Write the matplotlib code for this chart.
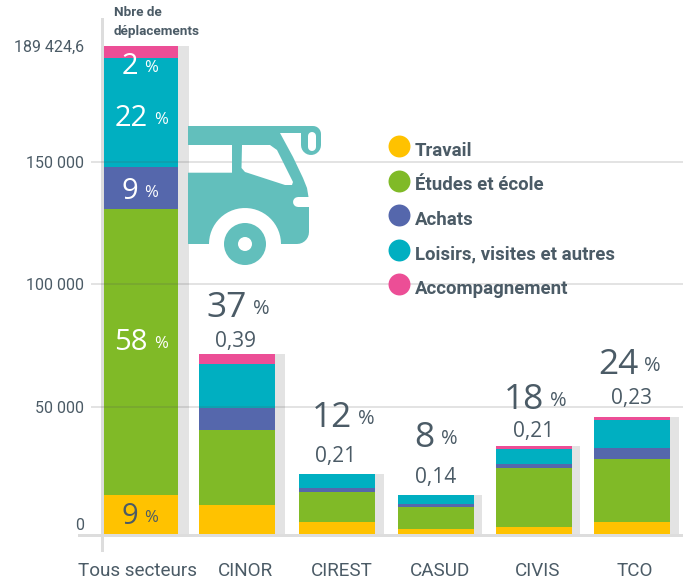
#!/usr/bin/env python3
import numpy as np
import matplotlib
matplotlib.use('Agg')
import matplotlib.pyplot as plt
from matplotlib.lines import Line2D
from matplotlib.path import Path
from matplotlib.patches import PathPatch, Circle, Rectangle
from matplotlib.transforms import Affine2D, ScaledTranslation

# data
sectors = ['Tous secteurs', 'CINOR', 'CIREST', 'CASUD', 'CIVIS', 'TCO']
travail = [15300, 11400, 4700, 1960, 2750, 4710]
etudes = [115360, 29450, 11800, 8640, 23170, 24750]
achats = [17170, 8750, 1570, 1180, 1570, 4320]
loisirs = [37500, 17920, 5490, 3540, 5900, 10990]
accomp = [4094.6, 3950, 0, 0, 1170, 1180]
series_names = ['Travail', 'Études et école', 'Achats', 'Loisirs, visites et autres', 'Accompagnement']

share_labels = ['37', '12', '8', '18', '24']
ratio_labels = ['0,39', '0,21', '0,14', '0,21', '0,23']
total_parts = ['9', '58', '9', '22', '2']

tick_values = [0, 50000, 100000, 150000, 189424.6]
tick_labels = ['0', '50 000', '100 000', '150 000', '189 424,6']
# the axis of the original is not quite linear, heights in px of each tick above the base
tick_heights = [0, 127.3, 250, 372.3, 488]

colors = ['#FFC200', '#80BA27', '#5567AC', '#00AFC1', '#EC4E96']
shadow = '#E3E3E3'
ink = '#4B5B66'
van_color = '#62BFBC'

W, H = 683, 581
base_py, top_py = 534, 46
left_px = 91

bar_x = [141, 237, 337, 436, 534, 632]
bar_w = [74, 76, 76, 76, 76, 76]
shadow_w = [11, 10, 9, 8, 8, 9]
label_x = [137, 245, 342, 440, 538, 635]

NUM_FONT = ['Open Sans', 'DejaVu Sans']
TXT_FONT = ['Roboto', 'DejaVu Sans']


def to_px(v):
    return np.interp(v, tick_values, tick_heights)


def from_px(p):
    return np.interp(p, tick_heights, tick_values)


fig = plt.figure(figsize=(W / 100, H / 100), dpi=100)
ax = fig.add_axes([left_px / W, 1 - base_py / H, 1 - left_px / W, (base_py - top_py) / H])
ax.set_yscale('function', functions=(to_px, from_px))
ax.set_xlim(left_px, W)
ax.set_ylim(0, tick_values[-1])
ax.patch.set_alpha(0)
for s in ax.spines.values():
    s.set_visible(False)

# pixel coordinates of the picture, y going down
px = Affine2D().scale(1 / 100, -1 / 100).translate(0, H / 100) + fig.dpi_scale_trans

# stacked bars with their grey shadow on the right
series = [travail, etudes, achats, loisirs, accomp]
totals = np.sum(series, axis=0)
for i, x in enumerate(bar_x):
    ax.bar(x + shadow_w[i] / 2, totals[i], width=bar_w[i] + shadow_w[i], color=shadow, zorder=1, linewidth=0)
bottom = np.zeros(len(sectors))
for vals, c in zip(series, colors):
    ax.bar(bar_x, vals, width=bar_w, bottom=bottom, color=c, zorder=2, linewidth=0)
    bottom = bottom + np.array(vals)

ax.hlines(tick_values[1:4], left_px, W, color='#555555', alpha=0.18, linewidth=1.3, zorder=3)

# axes
fig.add_artist(Rectangle((100.5, 18), 3, 534, transform=px, color='#DDDDDD', zorder=0, linewidth=0))
ax.add_patch(Rectangle((78, 534), W - 78, 3, transform=px, color='#DDDDDD', clip_on=False, zorder=3, linewidth=0))

ax.set_yticks(tick_values, tick_labels, fontsize=11.5, color=ink, family=TXT_FONT)
ax.tick_params(axis='y', length=0, pad=5)
zero_label = ax.yaxis.get_majorticklabels()[0]
zero_label.set_transform(zero_label.get_transform() + ScaledTranslation(0, 0.1, fig.dpi_scale_trans))
ax.set_xticks(label_x, sectors, fontsize=13.6, color=ink, family=TXT_FONT)
ax.tick_params(axis='x', length=0, pad=20)


def big(x, base, num, color, size, pct_size, gap, lift):
    ax.text(x - gap, base, num, transform=px, ha='right', va='baseline', color=color,
            fontsize=size, family=NUM_FONT, zorder=6, clip_on=False)
    ax.text(x + gap, base - lift, '%', transform=px, ha='left', va='baseline', color=color,
            fontsize=pct_size, family=NUM_FONT, zorder=6, clip_on=False)


# percentages inside the first bar
total_x = [141, 151, 141, 151, 141]
total_base = [524, 350, 199, 126, 74]
total_col = [ink, 'white', 'white', 'white', 'white']
for t, x, b, c in zip(total_parts, total_x, total_base, total_col):
    big(x, b, t, c, 21, 12, 3, 2)

# percentages and ratios above the other bars
share_x = [250, 355, 438, 547, 641]
share_base = [317, 427, 447, 409, 374]
ratio_x = [236, 336, 436, 534, 631]
ratio_base = [347, 462, 483, 437, 404]
for s, x, b in zip(share_labels, share_x, share_base):
    big(x, b, s, ink, 25.5, 14.5, 3, 3)
for r, x, b in zip(ratio_labels, ratio_x, ratio_base):
    ax.text(x, b, r, transform=px, ha='center', va='baseline', color=ink, fontsize=15,
            family=NUM_FONT, zorder=6, clip_on=False)

ax.text(114, 13, 'Nbre de', transform=px, ha='left', va='center', color=ink, fontsize=9.7,
        fontweight='bold', family=TXT_FONT, clip_on=False)
ax.text(114, 31, 'déplacements', transform=px, ha='left', va='center', color=ink, fontsize=9.7,
        fontweight='bold', family=TXT_FONT, clip_on=False)


# van drawn by hand as a compound path
def arc(cx, cy, r, a0, a1, n=24):
    t = np.radians(np.linspace(a0, a1, n))
    return list(zip(cx + r * np.cos(t), cy + r * np.sin(t)))


outer = [(188, 126), (313, 126)] + arc(313, 134, 8, -90, 0, 8) + arc(311, 145, 10, 0, 180, 14)
outer += [(301, 133), (280, 133), (293, 157), (303, 178), (307, 188), (308.5, 197), (298, 197)]
outer += arc(298, 202, 5, 270, 90, 8) + [(309, 207), (309, 233)] + arc(297, 232, 12, 0, 90, 8)
outer += [(281, 244)] + arc(245, 244, 36, 0, -180, 30) + [(188, 244)]
slot = arc(312, 136, 4, 0, -180, 10) + arc(312, 147, 4, 180, 0, 10)
side_window = [(188, 145), (188, 172.7), (232, 172.7), (232, 145)]
windshield = [(242, 145), (241.5, 168), (245, 172), (285, 185), (292, 185), (293, 182), (277, 150), (270, 145)]
parts = [Path(p + [p[0]], closed=True) for p in (outer, slot, side_window, windshield)]
ax.add_patch(PathPatch(Path.make_compound_path(*parts), transform=px, facecolor=van_color,
                       edgecolor='none', zorder=4, clip_on=False))
ax.add_patch(Circle((245, 244), 21, transform=px, color=van_color, zorder=4, clip_on=False, linewidth=0))
ax.add_patch(Circle((245, 244), 7, transform=px, color='white', zorder=5, clip_on=False, linewidth=0))

# legend
handles = [Line2D([], [], linestyle='none', marker='o', markersize=15.8, color=c, markeredgewidth=0) for c in colors]
leg = fig.legend(handles, series_names, loc='upper left', bbox_to_anchor=(383 / W, 1 - 142 / H),
                 frameon=False, labelspacing=0.88, handletextpad=0.0, handlelength=1.72, borderpad=0, borderaxespad=0,
                 prop={'family': TXT_FONT, 'weight': 'bold', 'size': 13.4})
for t in leg.get_texts():
    t.set_color(ink)
for h in leg.legend_handles:
    h.set_transform(h.get_transform() + ScaledTranslation(0, 0.03, fig.dpi_scale_trans))
leg.set_zorder(10)

fig.savefig('out.png', dpi=100)
